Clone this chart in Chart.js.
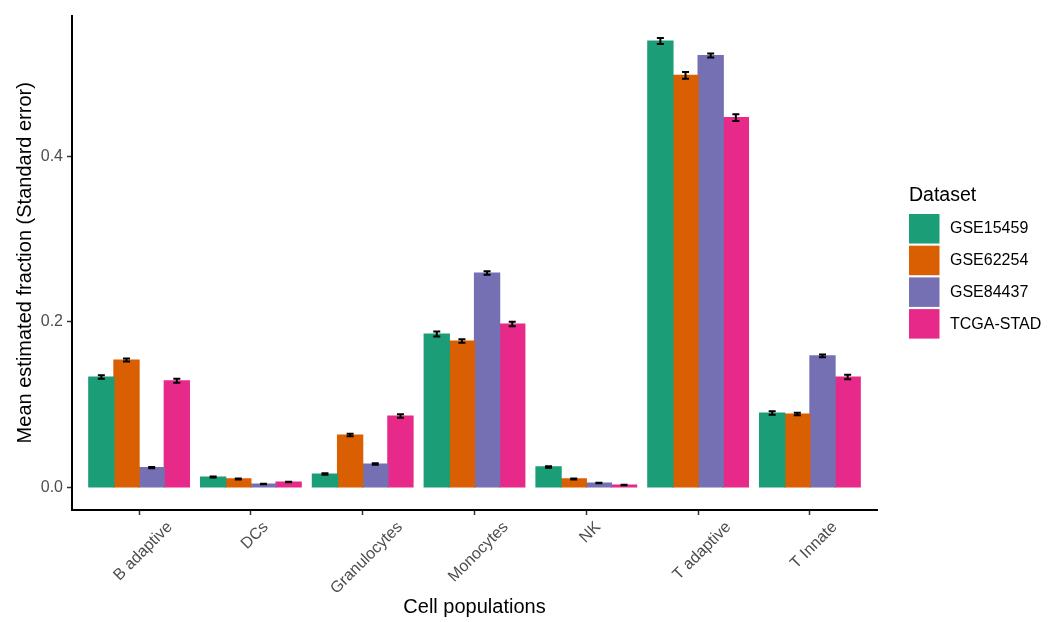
<!DOCTYPE html>
<html>
<head>
<meta charset="utf-8">
<title>Mean estimated fraction by cell population</title>
<script src="https://cdn.jsdelivr.net/npm/chart.js@4.4.1/dist/chart.umd.min.js"></script>
<style>
  html, body { margin: 0; padding: 0; background: #ffffff; }
  #wrap { width: 1057px; height: 622px; }
</style>
</head>
<body>
<div id="wrap"><canvas id="chart" width="1057" height="622"></canvas></div>
<script>
// Cell populations on the x axis
const categories = ['B adaptive', 'DCs', 'Granulocytes', 'Monocytes', 'NK', 'T adaptive', 'T Innate'];

// Dataset names and colours (Dark2)
const datasetNames = ['GSE15459', 'GSE62254', 'GSE84437', 'TCGA-STAD'];
const datasetColors = ['#1B9E77', '#D95F02', '#7570B3', '#E7298A'];

// Mean estimated fraction per dataset
const gse15459 = [0.1335, 0.0127, 0.0163, 0.1855, 0.0248, 0.5396, 0.0900];
const gse62254 = [0.1540, 0.0103, 0.0634, 0.1770, 0.0103, 0.4980, 0.0888];
const gse84437 = [0.0240, 0.0042, 0.0284, 0.2592, 0.0054, 0.5220, 0.1590];
const tcgaStad = [0.1290, 0.0066, 0.0864, 0.1976, 0.0030, 0.4470, 0.1335];

// Standard errors per dataset
const gse15459Se = [0.0020, 0.0005, 0.0008, 0.0030, 0.0008, 0.0036, 0.0020];
const gse62254Se = [0.0018, 0.0005, 0.0015, 0.0020, 0.0005, 0.0040, 0.0015];
const gse84437Se = [0.0008, 0.0004, 0.0010, 0.0020, 0.0004, 0.0024, 0.0016];
const tcgaStadSe = [0.0023, 0.0004, 0.0022, 0.0027, 0.0003, 0.0042, 0.0027];

// Y axis tick values
const yTicks = [0.0, 0.2, 0.4];

const seriesValues = [gse15459, gse62254, gse84437, tcgaStad];
const seriesErrors = [gse15459Se, gse62254Se, gse84437Se, tcgaStadSe];

const FONT = "'Liberation Sans', Arial, Helvetica, sans-serif";
const AXIS_TEXT = '#4D4D4D';

const datasets = datasetNames.map((name, k) => ({
  label: name,
  data: seriesValues[k].map((v, i) => ({ x: i, y: v })),
  backgroundColor: datasetColors[k],
  borderWidth: 0,
  inflateAmount: 0.6,
  categoryPercentage: 0.9,
  barPercentage: 1.0,
  errors: seriesErrors[k]
}));

// Error bars: mean ± SE, drawn through the y scale at each bar's centre
const errorBars = {
  id: 'errorBars',
  afterDatasetsDraw(chart) {
    const ctx = chart.ctx;
    const y = chart.scales.y;
    ctx.save();
    ctx.strokeStyle = '#000000';
    ctx.lineWidth = 2;
    chart.data.datasets.forEach((ds, k) => {
      const meta = chart.getDatasetMeta(k);
      meta.data.forEach((bar, i) => {
        const v = ds.data[i].y;
        const se = ds.errors[i];
        const yHi = y.getPixelForValue(v + se);
        const yLo = y.getPixelForValue(v - se);
        const cap = 3.5;
        ctx.beginPath();
        ctx.moveTo(bar.x, yHi); ctx.lineTo(bar.x, yLo);
        ctx.moveTo(bar.x - cap, yHi); ctx.lineTo(bar.x + cap, yHi);
        ctx.moveTo(bar.x - cap, yLo); ctx.lineTo(bar.x + cap, yLo);
        ctx.stroke();
      });
    });
    ctx.restore();
  }
};

// Rotated category labels under the x axis
const categoryLabels = {
  id: 'categoryLabels',
  afterDraw(chart) {
    const ctx = chart.ctx;
    const x = chart.scales.x;
    const top = 519;
    const size = 16;
    ctx.save();
    ctx.font = size + 'px ' + FONT;
    ctx.fillStyle = AXIS_TEXT;
    ctx.textAlign = 'center';
    ctx.textBaseline = 'middle';
    categories.forEach((label, i) => {
      const w = ctx.measureText(label).width;
      const cx = x.getPixelForValue(i) + 4;
      const cy = top + (w + size) * Math.SQRT1_2 / 2;
      ctx.save();
      ctx.translate(cx, cy);
      ctx.rotate(-Math.PI / 4);
      ctx.fillText(label, 0, 0);
      ctx.restore();
    });
    ctx.restore();
  }
};

// Legend panel on the right
const datasetLegend = {
  id: 'datasetLegend',
  afterDraw(chart) {
    const ctx = chart.ctx;
    ctx.save();
    ctx.fillStyle = '#000000';
    ctx.textAlign = 'left';
    ctx.textBaseline = 'alphabetic';
    ctx.font = '19.5px ' + FONT;
    ctx.fillText('Dataset', 909, 201);
    ctx.font = '16px ' + FONT;
    chart.data.datasets.forEach((ds, k) => {
      const top = 214 + k * 31.7;
      ctx.fillStyle = ds.backgroundColor;
      ctx.fillRect(909, top, 30.5, 29.5);
      ctx.fillStyle = '#000000';
      ctx.textBaseline = 'middle';
      ctx.fillText(ds.label, 950, top + 15);
    });
    ctx.restore();
  }
};

new Chart(document.getElementById('chart'), {
  type: 'bar',
  data: { datasets },
  options: {
    responsive: false,
    animation: false,
    devicePixelRatio: 1,
    layout: { padding: { top: 15.5, right: 180, bottom: 0, left: 0 } },
    plugins: {
      legend: { display: false },
      tooltip: { enabled: false }
    },
    scales: {
      x: {
        type: 'linear',
        min: -0.6,
        max: 6.6,
        offset: false,
        afterFit(scale) { scale.height = 112; },
        afterBuildTicks(scale) {
          scale.ticks = categories.map((c, i) => ({ value: i }));
        },
        grid: {
          offset: false,
          drawOnChartArea: false,
          drawTicks: true,
          tickLength: 5,
          tickColor: '#333333',
          tickWidth: 1.5
        },
        border: { display: true, color: '#000000', width: 2 },
        ticks: { display: false },
        title: {
          display: true,
          text: 'Cell populations',
          color: '#000000',
          font: { family: FONT, size: 20 },
          padding: { top: 0, bottom: 3 }
        }
      },
      y: {
        min: -0.0272,
        max: 0.5704,
        afterFit(scale) { scale.width = 72; },
        afterBuildTicks(scale) {
          scale.ticks = yTicks.map(v => ({ value: v }));
        },
        grid: {
          drawOnChartArea: false,
          drawTicks: true,
          tickLength: 5,
          tickColor: '#333333',
          tickWidth: 1.5
        },
        border: { display: true, color: '#000000', width: 2 },
        ticks: {
          color: AXIS_TEXT,
          padding: 4,
          font: { family: FONT, size: 16 },
          callback: v => Number(v).toFixed(1)
        },
        title: {
          display: true,
          text: 'Mean estimated fraction (Standard error)',
          color: '#000000',
          font: { family: FONT, size: 20 },
          padding: { top: 13, bottom: 0 }
        }
      }
    }
  },
  plugins: [errorBars, categoryLabels, datasetLegend]
});
</script>
</body>
</html>
